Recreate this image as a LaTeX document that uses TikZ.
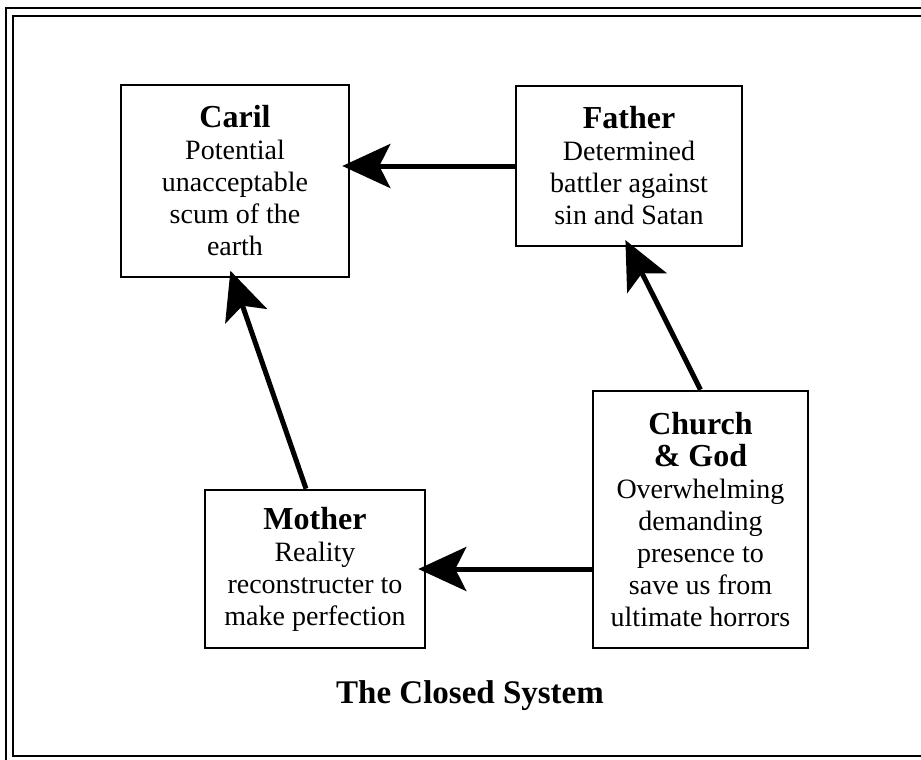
\documentclass[tikz,border=0pt]{standalone}
\usepackage{fontspec}
\setmainfont{Liberation Serif}
\usetikzlibrary{arrows.meta}
\begin{document}
\begin{tikzpicture}[x=1pt,y=-1pt,
  box/.style={draw, line width=2.6pt, align=center, inner sep=0pt,
    font=\fontsize{28}{32}\selectfont},
  link/.style={line width=5pt, -{Stealth[length=48pt,width=44pt,inset=11pt]},
    shorten >=-8pt},
  frameline/.style={line width=2.4pt}]
\useasboundingbox (0,0) rectangle (921,760);
\fill[white] (0,0) rectangle (921,760);
\draw[line width=1.6pt] (6,8) rectangle (940,772);
\draw[frameline] (13,16) rectangle (932,756);
\newcommand{\nm}[1]{{\fontsize{32}{32}\selectfont\bfseries #1}}
\node[box, minimum width=228pt, minimum height=192pt] (caril) at (235,181)
  {\nm{Caril}\\Potential\\unacceptable\\scum of the\\earth};
\node[box, minimum width=226pt, minimum height=160pt] (father) at (629,166)
  {\nm{Father}\\Determined\\battler against\\sin and Satan};
\node[box, minimum width=215pt, minimum height=257pt] (church) at (700.5,519.5)
  {\nm{Church}\\\nm{\& God}\\Overwhelming\\demanding\\presence to\\save us from\\ultimate horrors};
\node[box, minimum width=220pt, minimum height=158pt] (mother) at (315,569)
  {\nm{Mother}\\Reality\\reconstructer to\\make perfection};
\node[font=\fontsize{33}{36}\selectfont\bfseries, anchor=base] (title) at (470,703)
  {The Closed System};
\draw[link] (father.west) -- (caril.east |- father.west);
\draw[link] (church.north) -- (father.south);
\draw[link] (church.west |- mother.east) -- (mother.east);
\draw[link] ([xshift=-9pt]mother.north) -- ([xshift=-2pt]caril.south);
\end{tikzpicture}
\end{document}
